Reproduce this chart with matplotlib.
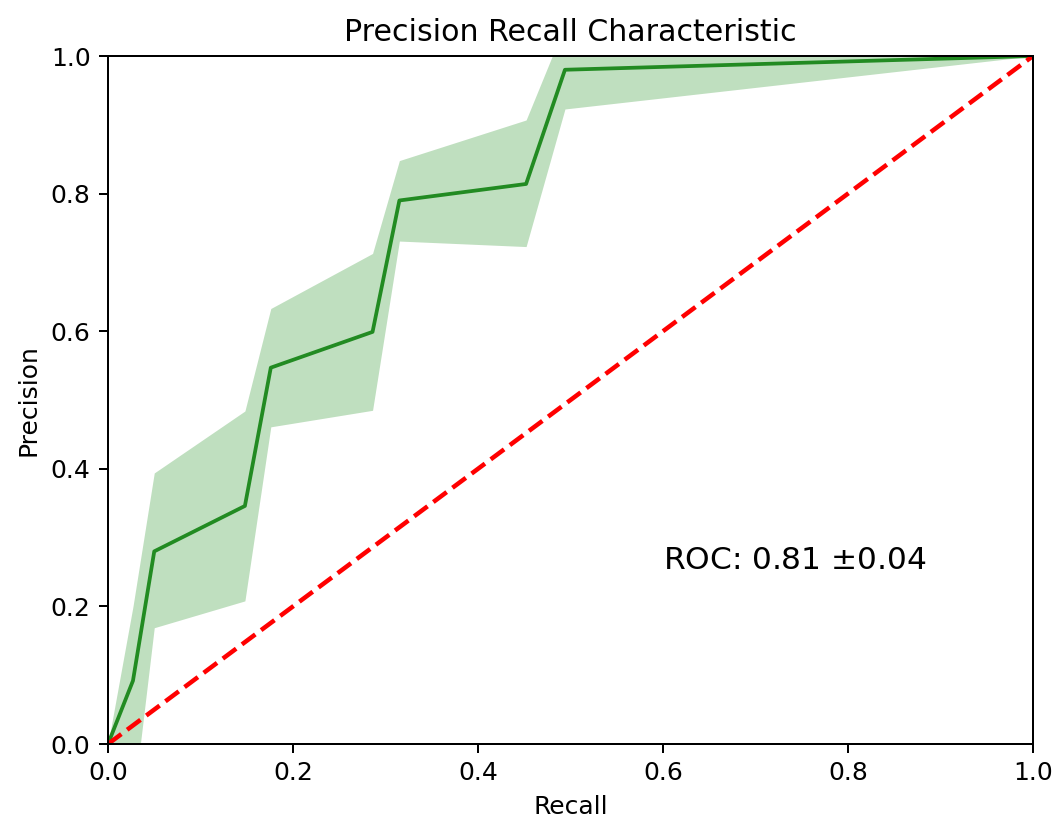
import numpy as np
import matplotlib
matplotlib.use("Agg")
import matplotlib.pyplot as plt

# mean precision / recall curve with +-1 std band
recall = [0.0, 0.027, 0.05, 0.148, 0.176, 0.286, 0.315, 0.452, 0.494, 1.0]
precision = [0.0, 0.092, 0.28, 0.346, 0.547, 0.599, 0.790, 0.814, 0.980, 1.0]
prec_upper = [0.0, 0.20, 0.394, 0.484, 0.633, 0.713, 0.848, 0.907, 1.045, 1.0]
prec_lower = [0.0, -0.09, 0.169, 0.208, 0.461, 0.485, 0.731, 0.723, 0.923, 1.0]

roc_mean = 0.81
roc_std = 0.04

fig = plt.figure(figsize=(1056 / 180, 819 / 180), dpi=180)
ax = fig.add_axes([108 / 1056, 1 - 744 / 819, 925 / 1056, 688 / 819])

ax.fill_between(recall, prec_lower, prec_upper, color="green", alpha=0.25, linewidth=0)
ax.plot(recall, precision, color="forestgreen", linewidth=1.5)
ax.plot([0, 1], [0, 1], "r--", linewidth=1.8)

ax.text(0.6, 0.255, f"ROC: {roc_mean:.2f} $\\pm${roc_std:.2f}", fontsize=12.5)

ax.set_xlim(0, 1)
ax.set_ylim(0, 1)
ax.set_title("Precision Recall Characteristic")
ax.set_xlabel("Recall")
ax.set_ylabel("Precision")

fig.savefig("out.png", dpi=180)
